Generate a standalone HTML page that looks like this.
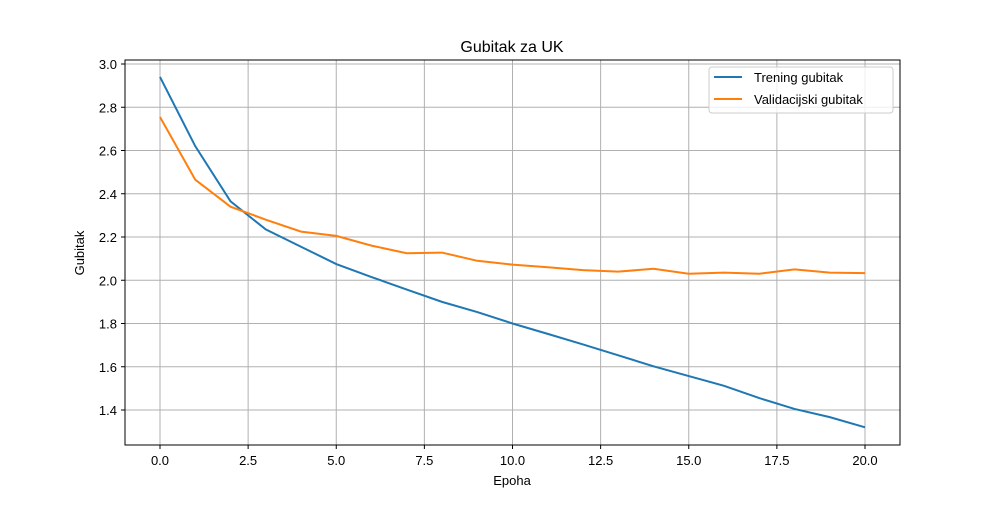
<!DOCTYPE html>
<html><head><meta charset="utf-8"><style>
body{margin:0;background:#fff;font-family:"Liberation Sans",sans-serif}
</style></head><body>
<svg id="chart" width="1000" height="500" xmlns="http://www.w3.org/2000/svg" font-family="Liberation Sans, sans-serif">
<rect width="1000" height="500" fill="#fff"/>
<g id="grid"></g>
<g id="ticks"></g>
<g id="series"></g>
<rect x="125" y="60" width="775" height="385" fill="none" stroke="#000" stroke-width="1"/>
<text x="512" y="52" font-size="16" text-anchor="middle">Gubitak za UK</text>
<text x="512" y="485" font-size="13" text-anchor="middle">Epoha</text>
<text x="84" y="253" font-size="13" text-anchor="middle" transform="rotate(-90 84 253)">Gubitak</text>
<g>
<rect x="709" y="67" width="184" height="46" rx="3" fill="#fff" fill-opacity="0.8" stroke="#ccc"/>
<g><line x1="714" y1="77" x2="742" y2="77" stroke="#1f77b4" stroke-width="2"/><text x="754" y="82" font-size="13">Trening gubitak</text></g>
<g><line x1="714" y1="99" x2="742" y2="99" stroke="#ff7f0e" stroke-width="2"/><text x="754" y="104" font-size="13">Validacijski gubitak</text></g>
</g>
</svg>
<script>
const epochs=[0,1,2,3,4,5,6,7,8,9,10,11,12,13,14,15,16,17,18,19,20];
const trainLoss=[2.94,2.62,2.365,2.235,2.155,2.075,2.015,1.957,1.90,1.853,1.80,1.752,1.703,1.653,1.602,1.557,1.512,1.455,1.405,1.367,1.32];
const valLoss=[2.755,2.465,2.34,2.28,2.225,2.205,2.16,2.125,2.128,2.09,2.072,2.06,2.047,2.04,2.053,2.03,2.035,2.03,2.05,2.035,2.033];
const xTicks=[0,2.5,5,7.5,10,12.5,15,17.5,20];
const xTickLabels=["0.0","2.5","5.0","7.5","10.0","12.5","15.0","17.5","20.0"];
const yTicks=[1.4,1.6,1.8,2.0,2.2,2.4,2.6,2.8,3.0];
const yTickLabels=["1.4","1.6","1.8","2.0","2.2","2.4","2.6","2.8","3.0"];
const NS="http://www.w3.org/2000/svg";
const xs=v=>160+v*35.25;
const ys=v=>64+(3.0-v)*216.25;
function mk(t,a,p){const e=document.createElementNS(NS,t);for(const k in a)e.setAttribute(k,a[k]);p.appendChild(e);return e;}
const grid=document.getElementById('grid'),ticks=document.getElementById('ticks'),series=document.getElementById('series');
xTicks.forEach((v,i)=>{
 const g=mk('line',{x1:xs(v),x2:xs(v),y1:60,y2:445,stroke:'#b0b0b0','stroke-width':1},grid);
 
 
 mk('line',{x1:xs(v),x2:xs(v),y1:445,y2:449,stroke:'#000'},ticks);
 const t=mk('text',{x:xs(v),y:465,'font-size':13,'text-anchor':'middle'},ticks);
 t.textContent=xTickLabels[i];
 
 
});
yTicks.forEach((v,i)=>{
 const g=mk('line',{x1:125,x2:900,y1:ys(v),y2:ys(v),stroke:'#b0b0b0','stroke-width':1},grid);
 
 
 mk('line',{x1:121,x2:125,y1:ys(v),y2:ys(v),stroke:'#000'},ticks);
 const t=mk('text',{x:117,y:ys(v)+5,'font-size':13,'text-anchor':'end'},ticks);
 t.textContent=yTickLabels[i];
 
 
});
function line(data,color,name){
 const p=mk('polyline',{points:epochs.map((e,i)=>xs(e)+','+ys(data[i])).join(' '),fill:'none',stroke:color,'stroke-width':2},series);
 
 
}
line(trainLoss,'#1f77b4','train-loss-line');
line(valLoss,'#ff7f0e','val-loss-line');
</script>
</body></html>
